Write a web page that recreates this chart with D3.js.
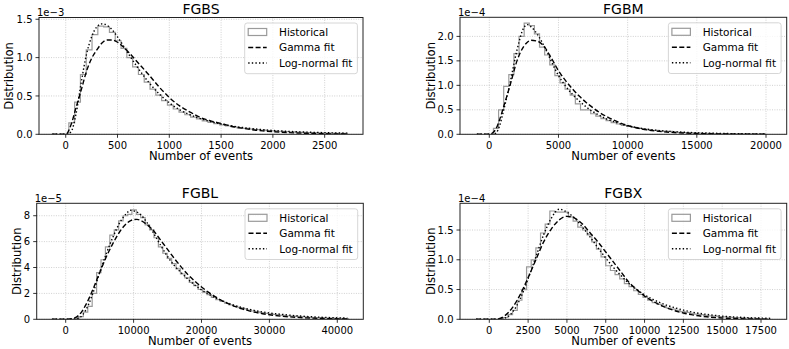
<!DOCTYPE html>
<html>
<head>
<meta charset="utf-8">
<script src="https://cdn.jsdelivr.net/npm/d3@7"></script>
<style>
body { margin: 0; background: #fff; }
svg { display: block; font-family: "DejaVu Sans", sans-serif; }
</style>
</head>
<body>
<svg id="chart" width="789" height="349"></svg>
<script>
// ---- data (y values in units of the offset shown on each panel) ----
var fgbsXTicks = [0, 500, 1000, 1500, 2000, 2500];
var fgbsYTicks = [0, 0.5, 1.0, 1.5];
var fgbsHistStart = 30, fgbsHistWidth = 56;
var fgbsHist = [0.15, 0.42, 0.78, 1.10, 1.30, 1.41, 1.40, 1.33, 1.22, 1.12, 1.00, 0.88, 0.78, 0.68, 0.59,
    0.51, 0.44, 0.38, 0.33, 0.29, 0.255, 0.225, 0.20, 0.175, 0.155, 0.138, 0.122, 0.108, 0.096, 0.085,
    0.076, 0.068, 0.061, 0.055, 0.049, 0.044, 0.040, 0.036, 0.032, 0.029, 0.026, 0.023, 0.021, 0.019,
    0.017, 0.015, 0.013, 0.012];
var fgbsCurveX = [-130, 0, 50, 100, 150, 200, 250, 300, 350, 400, 450, 500, 600, 700, 800, 900, 1000,
    1100, 1200, 1300, 1400, 1500, 1600, 1700, 1800, 1900, 2000, 2200, 2400, 2720];
var fgbsGamma = [0, 0, 0.12, 0.35, 0.58, 0.82, 0.99, 1.10, 1.19, 1.23, 1.23, 1.20, 1.08, 0.93, 0.78,
    0.62, 0.48, 0.37, 0.29, 0.22, 0.175, 0.14, 0.105, 0.08, 0.06, 0.045, 0.034, 0.019, 0.010, 0.004];
var fgbsLognorm = [0, 0, 0.03, 0.27, 0.68, 1.04, 1.27, 1.40, 1.44, 1.42, 1.36, 1.27, 1.06, 0.86, 0.68,
    0.53, 0.41, 0.32, 0.255, 0.205, 0.165, 0.135, 0.11, 0.09, 0.074, 0.061, 0.05, 0.035, 0.025, 0.015];

var fgbmXTicks = [0, 5000, 10000, 15000, 20000];
var fgbmYTicks = [0, 0.5, 1.0, 1.5, 2.0];
var fgbmHistStart = 300, fgbmHistWidth = 370;
var fgbmHist = [0.12, 0.50, 0.98, 1.22, 1.65, 2.00, 2.27, 2.22, 2.05, 1.78, 1.62, 1.42, 1.20, 1.05, 0.92,
    0.80, 0.62, 0.50, 0.50, 0.42, 0.37, 0.32, 0.28, 0.24, 0.21, 0.18, 0.16, 0.14, 0.12, 0.105, 0.09,
    0.08, 0.07, 0.065, 0.06, 0.052, 0.04, 0.035, 0.03, 0.026, 0.023, 0.02, 0.018, 0.016, 0.014, 0.012,
    0.011, 0.01, 0.009, 0.008, 0.007, 0.006, 0.005];
var fgbmCurveX = [-900, 0, 250, 500, 750, 1000, 1500, 2000, 2500, 2750, 3000, 3500, 4000, 4500, 5000,
    5500, 6000, 6500, 7000, 7500, 8000, 8500, 9000, 9500, 10000, 11000, 12000, 13000, 14000, 15000,
    16000, 18000, 20000];
var fgbmGamma = [0, 0, 0.03, 0.12, 0.30, 0.53, 1.00, 1.50, 1.80, 1.88, 1.92, 1.90, 1.78, 1.55, 1.30,
    1.10, 0.93, 0.78, 0.65, 0.54, 0.44, 0.36, 0.29, 0.23, 0.18, 0.11, 0.068, 0.042, 0.026, 0.016,
    0.010, 0.004, 0.0015];
var fgbmLognorm = [0, 0, 0, 0.03, 0.18, 0.45, 1.05, 1.72, 2.18, 2.24, 2.20, 2.03, 1.78, 1.48, 1.20,
    0.99, 0.82, 0.68, 0.56, 0.46, 0.38, 0.31, 0.26, 0.21, 0.175, 0.12, 0.085, 0.06, 0.043, 0.031,
    0.023, 0.012, 0.007];

var fgblXTicks = [0, 10000, 20000, 30000, 40000];
var fgblYTicks = [0, 2, 4, 6, 8];
var fgblHistStart = 1300, fgblHistWidth = 650;
var fgblHist = [0.05, 0.2, 0.55, 1.0, 2.0, 3.6, 4.6, 5.6, 6.5, 6.9, 7.6, 8.0, 8.1, 8.45, 8.1, 7.85,
    7.3, 6.9, 6.3, 5.6, 5.1, 4.7, 4.3, 3.9, 3.5, 3.2, 2.85, 2.6, 2.3, 2.1, 1.9, 1.7, 1.52, 1.38, 1.24,
    1.12, 1.0, 0.9, 0.8, 0.72, 0.64, 0.57, 0.51, 0.46, 0.42, 0.37, 0.33, 0.3, 0.27, 0.24, 0.22, 0.2,
    0.18, 0.16, 0.14, 0.13, 0.12, 0.1, 0.09, 0.08, 0.07, 0.06];
var fgblCurveX = [-2000, 0, 1000, 2000, 3000, 4000, 5000, 6000, 7000, 8000, 9000, 9500, 10000, 10500,
    11000, 12000, 13000, 14000, 15000, 16000, 17000, 18000, 19000, 20000, 21000, 22000, 23000, 24000,
    25000, 26000, 27000, 28000, 29000, 30000, 32000, 34000, 36000, 38000, 41500];
var fgblGamma = [0, 0, 0.05, 0.35, 1.15, 2.3, 3.6, 4.85, 5.9, 6.8, 7.42, 7.6, 7.7, 7.72, 7.65, 7.3,
    6.8, 6.1, 5.4, 4.7, 4.05, 3.45, 2.95, 2.5, 2.1, 1.75, 1.45, 1.2, 0.98, 0.8, 0.65, 0.53, 0.43, 0.35,
    0.23, 0.15, 0.095, 0.06, 0.025];
var fgblLognorm = [0, 0, 0.01, 0.12, 0.75, 2.0, 3.6, 5.1, 6.4, 7.5, 8.2, 8.42, 8.38, 8.28, 8.1, 7.45,
    6.6, 5.7, 4.85, 4.15, 3.6, 3.1, 2.65, 2.27, 1.95, 1.67, 1.43, 1.22, 1.05, 0.9, 0.77, 0.66, 0.57,
    0.49, 0.37, 0.27, 0.2, 0.15, 0.09];

var fgbxXTicks = [0, 2500, 5000, 7500, 10000, 12500, 15000, 17500];
var fgbxYTicks = [0, 0.5, 1.0, 1.5];
var fgbxHistStart = 900, fgbxHistWidth = 300;
var fgbxHist = [0.03, 0.08, 0.15, 0.32, 0.5, 0.88, 1.0, 1.2, 1.45, 1.6, 1.82, 1.8, 1.8, 1.8, 1.72,
    1.65, 1.55, 1.5, 1.42, 1.3, 1.18, 1.05, 0.9, 0.82, 0.75, 0.68, 0.6, 0.55, 0.48, 0.42, 0.37, 0.32,
    0.28, 0.25, 0.22, 0.19, 0.17, 0.15, 0.13, 0.115, 0.1, 0.088, 0.077, 0.067, 0.059, 0.052, 0.045,
    0.04, 0.035, 0.03, 0.027, 0.023, 0.02, 0.018, 0.015, 0.013];
var fgbxCurveX = [-850, 0, 500, 1000, 1500, 2000, 2500, 3000, 3500, 4000, 4500, 5000, 5500, 6000, 6500,
    7000, 7500, 8000, 8500, 9000, 9500, 10000, 10500, 11000, 11500, 12000, 12500, 13000, 14000, 15000,
    16000, 17000, 18100];
var fgbxGamma = [0, 0, 0.005, 0.06, 0.2, 0.42, 0.7, 1.0, 1.3, 1.52, 1.67, 1.73, 1.7, 1.6, 1.45, 1.3,
    1.13, 0.96, 0.79, 0.62, 0.5, 0.39, 0.31, 0.24, 0.185, 0.14, 0.105, 0.078, 0.042, 0.022, 0.011,
    0.005, 0.002];
var fgbxLognorm = [0, 0, 0, 0.02, 0.12, 0.35, 0.68, 1.05, 1.42, 1.7, 1.85, 1.8, 1.7, 1.55, 1.38, 1.2,
    1.03, 0.87, 0.73, 0.6, 0.5, 0.41, 0.34, 0.28, 0.23, 0.19, 0.155, 0.125, 0.082, 0.054, 0.036, 0.024,
    0.016];

// ---- panel layout ----
var panels = [
    {title: 'FGBS', offset: '1e\u22123', box: {l: 39, r: 363, t: 17.5, b: 134.3}, xDomain: [-258, 2870], yMax: 1.523,
        xTicks: fgbsXTicks, yTicks: fgbsYTicks, fmt: '.1f', histStart: fgbsHistStart, histWidth: fgbsHistWidth,
        hist: fgbsHist, curveX: fgbsCurveX, gamma: fgbsGamma, lognorm: fgbsLognorm, ylabelX: 8.5, titleY: 8.7},
    {title: 'FGBM', offset: '1e\u22124', box: {l: 460, r: 786.7, t: 17.3, b: 134.3}, xDomain: [-2118, 21496], yMax: 2.39,
        xTicks: fgbmXTicks, yTicks: fgbmYTicks, fmt: '.1f', histStart: fgbmHistStart, histWidth: fgbmHistWidth,
        hist: fgbmHist, curveX: fgbmCurveX, gamma: fgbmGamma, lognorm: fgbmLognorm, ylabelX: 431, titleY: 8.7},
    {title: 'FGBL', offset: '1e\u22125', box: {l: 36.7, r: 363.3, t: 203.3, b: 319.3}, xDomain: [-4271, 43830], yMax: 8.96,
        xTicks: fgblXTicks, yTicks: fgblYTicks, fmt: 'd', histStart: fgblHistStart, histWidth: fgblHistWidth,
        hist: fgblHist, curveX: fgblCurveX, gamma: fgblGamma, lognorm: fgblLognorm, ylabelX: 17, titleY: 192.5},
    {title: 'FGBX', offset: '1e\u22124', box: {l: 460, r: 786.7, t: 203.3, b: 319.3}, xDomain: [-1887, 19155], yMax: 1.949,
        xTicks: fgbxXTicks, yTicks: fgbxYTicks, fmt: '.1f', histStart: fgbxHistStart, histWidth: fgbxHistWidth,
        hist: fgbxHist, curveX: fgbxCurveX, gamma: fgbxGamma, lognorm: fgbxLognorm, ylabelX: 431, titleY: 192.5}
];

var svg = d3.select('#chart');

panels.forEach(function(p, idx) {
    var w = p.box.r - p.box.l,
        h = p.box.b - p.box.t;
    var x = d3.scaleLinear().domain(p.xDomain).range([0, w]);
    var y = d3.scaleLinear().domain([0, p.yMax]).range([h, 0]);
    var g = svg.append('g').attr('transform', 'translate(' + p.box.l + ',' + p.box.t + ')');

    g.append('clipPath').attr('id', 'clip' + idx)
        .append('rect').attr('width', w).attr('height', h);

    // grid
    g.selectAll('.gx').data(p.xTicks).enter().append('line')
        .attr('x1', x).attr('x2', x).attr('y1', 0).attr('y2', h)
        .style('stroke', '#c4c4c4').style('stroke-width', 0.8).style('stroke-dasharray', '1,1.4');
    g.selectAll('.gy').data(p.yTicks).enter().append('line')
        .attr('x1', 0).attr('x2', w).attr('y1', y).attr('y2', y)
        .style('stroke', '#c4c4c4').style('stroke-width', 0.8).style('stroke-dasharray', '1,1.4');

    var plot = g.append('g').attr('clip-path', 'url(#clip' + idx + ')');

    // histogram outline (step)
    var pts = [[p.histStart, 0]];
    p.hist.forEach(function(v, i) {
        pts.push([p.histStart + i * p.histWidth, v]);
    });
    var last = p.histStart + p.hist.length * p.histWidth;
    pts.push([last, p.hist[p.hist.length - 1]]);
    pts.push([last, 0]);
    var step = d3.line().curve(d3.curveStepAfter)
        .x(function(d) { return x(d[0]); })
        .y(function(d) { return y(d[1]); });
    plot.append('path').attr('d', step(pts))
        .style('fill', 'none').style('stroke', '#9a9a9a').style('stroke-width', 1.2);

    var smooth = d3.line().curve(d3.curveMonotoneX)
        .x(function(d, i) { return x(p.curveX[i]); })
        .y(function(d) { return y(d); });
    plot.append('path').attr('d', smooth(p.gamma))
        .style('fill', 'none').style('stroke', '#000').style('stroke-width', 1.4)
        .style('stroke-dasharray', '5,2.4');
    plot.append('path').attr('d', smooth(p.lognorm))
        .style('fill', 'none').style('stroke', '#000').style('stroke-width', 1.4)
        .style('stroke-dasharray', '1.4,2.2');

    // frame
    g.append('rect').attr('width', w).attr('height', h)
        .style('fill', 'none').style('stroke', '#222').style('stroke-width', 1);

    // ticks
    var fmt = d3.format(p.fmt);
    g.selectAll('.tx').data(p.xTicks).enter().append('line')
        .attr('x1', x).attr('x2', x).attr('y1', h).attr('y2', h + 3.5)
        .style('stroke', '#000').style('stroke-width', 0.8);
    g.selectAll('.lx').data(p.xTicks).enter().append('text')
        .attr('x', x).attr('y', h + 14.5)
        .attr('text-anchor', 'middle').style('font-size', '10px').style('fill', '#000')
        .text(function(d) { return d; });
    g.selectAll('.ty').data(p.yTicks).enter().append('line')
        .attr('x1', -3.5).attr('x2', 0).attr('y1', y).attr('y2', y)
        .style('stroke', '#000').style('stroke-width', 0.8);
    g.selectAll('.ly').data(p.yTicks).enter().append('text')
        .attr('x', -6.5).attr('y', y).attr('dy', '0.36em')
        .attr('text-anchor', 'end').style('font-size', '10px').style('fill', '#000')
        .text(function(d) { return fmt(d); });

    // offset, title, labels
    g.append('text').attr('x', -2).attr('y', -1.5)
        .style('font-size', '10px').style('fill', '#000').text(p.offset);
    svg.append('text').attr('x', p.box.l + w / 2).attr('y', p.titleY).attr('dy', '0.36em')
        .attr('text-anchor', 'middle').style('font-size', '14px').style('fill', '#000').text(p.title);
    g.append('text').attr('x', w / 2).attr('y', h + 26)
        .attr('text-anchor', 'middle').style('font-size', '11.6px').style('fill', '#000')
        .text('Number of events');
    svg.append('text')
        .attr('transform', 'translate(' + p.ylabelX + ',' + (p.box.t + h / 2) + ') rotate(-90)')
        .attr('dy', '0.36em').attr('text-anchor', 'middle')
        .style('font-size', '11.6px').style('fill', '#000').text('Distribution');

    // legend
    var lw = 112.7, lh = 50.7;
    var lg = g.append('g').attr('transform', 'translate(' + (w - 5.6 - lw) + ',5.5)');
    lg.append('rect').attr('width', lw).attr('height', lh).attr('rx', 2.5)
        .style('fill', '#fff').style('fill-opacity', 0.8)
        .style('stroke', '#cccccc').style('stroke-width', 0.8);
    var items = ['Historical', 'Gamma fit', 'Log-normal fit'];
    items.forEach(function(name, i) {
        var cy = 9 + i * 15.5;
        if (i === 0) {
            lg.append('rect').attr('x', 3.5).attr('y', cy - 3.5).attr('width', 18.5).attr('height', 7)
                .style('fill', 'none').style('stroke', '#9a9a9a').style('stroke-width', 1.2);
        } else {
            lg.append('line').attr('x1', 3.5).attr('x2', 22).attr('y1', cy).attr('y2', cy)
                .style('stroke', '#000').style('stroke-width', 1.4)
                .style('stroke-dasharray', i === 1 ? '5,2.4' : '1.4,2.2');
        }
        lg.append('text').attr('x', 34.3).attr('y', cy).attr('dy', '0.36em')
            .style('font-size', '10.5px').style('fill', '#000').text(name);
    });
});
</script>
</body>
</html>
